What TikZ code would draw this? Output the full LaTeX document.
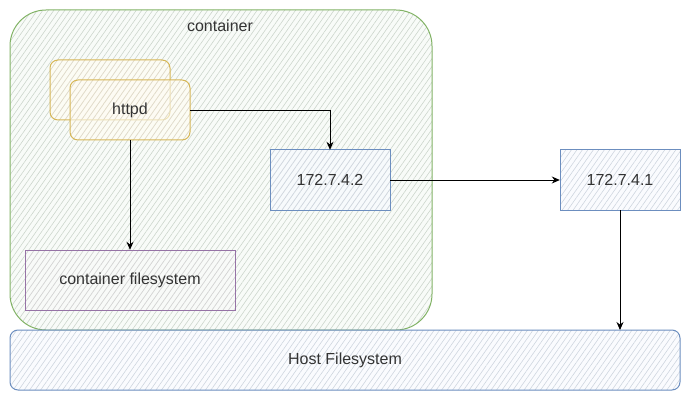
\documentclass[tikz,border=0pt]{standalone}
\usepackage{fontspec}
\setmainfont{Liberation Sans}
\usetikzlibrary{patterns.meta,arrows.meta}
\definecolor{gstroke}{HTML}{82B366}
\definecolor{gfill}{HTML}{D5E8D4}
\definecolor{ystroke}{HTML}{D6B656}
\definecolor{yfill}{HTML}{FFF2CC}
\definecolor{bstroke}{HTML}{6C8EBF}
\definecolor{bfill}{HTML}{DAE8FC}
\definecolor{pstroke}{HTML}{9673A6}
\definecolor{pfill}{HTML}{E6E6E6}
\definecolor{txt}{HTML}{333333}
\tikzset{
  hatch/.style 2 args={draw=#1, line width=1pt,
    preaction={fill=#2!25!white, fill opacity=0.6},
    preaction={pattern={Lines[angle=55, distance=4.5pt, line width=0.6pt]}, pattern color=#2!80!black!60!white}},
  boxtext/.style={font=\fontsize{16}{19}\selectfont, text=txt},
  conn/.style={draw=black, line width=0.9pt, -{Stealth[length=8pt,width=7pt]}},
}
\begin{document}
\begin{tikzpicture}[x=1pt,y=-1pt]
\useasboundingbox (0,0) rectangle (691,401);
% container
\draw[hatch={gstroke}{gfill}, rounded corners=36pt] (10,10) rectangle (432,330);
\node[boxtext] (ctitle) at (220,26) {container};
% host filesystem
\draw[hatch={bstroke}{bfill}, rounded corners=8pt] (10,330) rectangle (680,390);
\node[boxtext] (host) at (345,360) {Host Filesystem};
% httpd boxes
\draw[hatch={ystroke}{yfill}, rounded corners=8pt] (50,60) rectangle (170,120);
\draw[hatch={ystroke}{yfill}, rounded corners=8pt] (70,80) rectangle (190,140);
\node[boxtext, minimum width=120pt, minimum height=60pt, inner sep=0pt] (httpd) at (130,110) {httpd};
% ip boxes
\draw[hatch={bstroke}{bfill}] (270,150) rectangle (390,210);
\node[boxtext, minimum width=120pt, minimum height=60pt, inner sep=0pt] (ipa) at (330,180) {172.7.4.2};
\draw[hatch={bstroke}{bfill}] (560,150) rectangle (680,210);
\node[boxtext, minimum width=120pt, minimum height=60pt, inner sep=0pt] (ipb) at (620,180) {172.7.4.1};
% container filesystem
\draw[hatch={pstroke}{pfill}] (25,250) rectangle (235,310);
\node[boxtext, minimum width=210pt, minimum height=60pt, inner sep=0pt] (cfs) at (130,280) {container filesystem};
\coordinate (hosttop) at (620,330);
% connectors
\draw[conn] (httpd.east) -| (ipa.north);
\draw[conn] (httpd.south) -- (cfs.north);
\draw[conn] (ipa.east) -- (ipb.west);
\draw[conn] (ipb.south) -- (hosttop);
\end{tikzpicture}
\end{document}
